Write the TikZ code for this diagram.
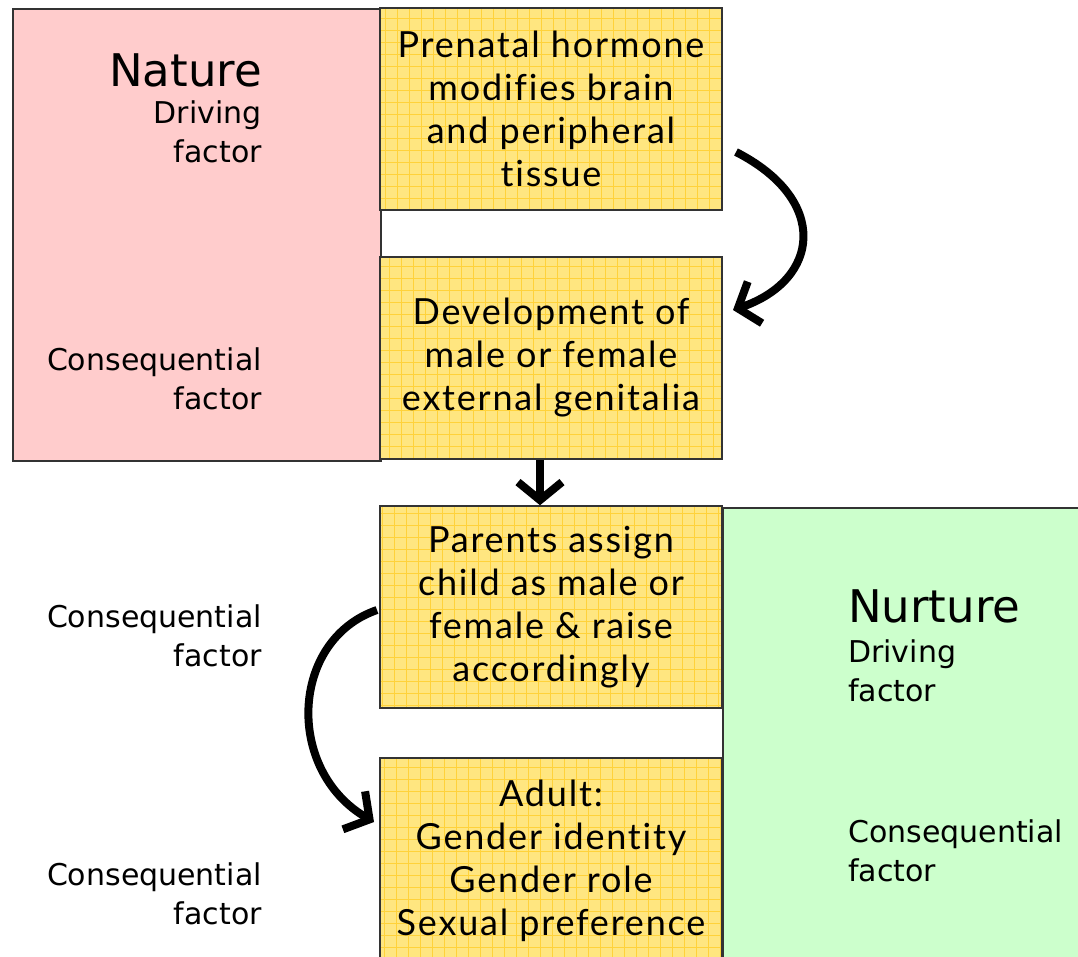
\documentclass[tikz,border=0pt]{standalone}
\usepackage{fontspec}
\setmainfont{DejaVu Sans}
\newfontfamily\boxfont[LetterSpace=5,Ligatures=NoCommon]{Lato}
\usetikzlibrary{arrows.meta}
\definecolor{pinkfill}{HTML}{FFCCCC}
\definecolor{greenfill}{HTML}{CCFFCC}
\definecolor{yellowfill}{HTML}{FFE680}
\definecolor{yellowgrid}{HTML}{FFD23A}
\tikzset{
  side/.style={draw=black!80, line width=1.5pt, inner sep=0pt},
  stage/.style={draw=black!80, line width=1.5pt, fill=yellowfill, minimum width=342pt,
    minimum height=202pt, inner sep=0pt, align=center,
    font=\boxfont\fontsize{36}{43}\selectfont,
    path picture={\draw[yellowgrid, line width=1pt] (path picture bounding box.south west)
      grid[step=12pt] (path picture bounding box.north east);}},
  biglbl/.style={font=\fontsize{45}{50}\selectfont, inner sep=0pt},
  lbl/.style={font=\fontsize{30}{39}\selectfont, inner sep=0pt},
  curvy/.style={line width=8pt, -{Straight Barb[length=18pt,width=44pt]}}
}
\begin{document}
\begin{tikzpicture}[x=1pt,y=-1pt]
\useasboundingbox (0,0) rectangle (1078,956);
% side panels
\node[side, fill=pinkfill, minimum width=368pt, minimum height=452pt, anchor=north west] (nature) at (12,8) {};
\node[side, fill=greenfill, minimum width=362pt, minimum height=455pt, anchor=north west] (nurture) at (722,507) {};
% stages
\node[stage] (p1) at (551,109) {Prenatal hormone\\modifies brain\\and peripheral\\tissue};
\node[stage] (p2) at (551,358) {Development of\\male or female\\external genitalia};
\node[stage] (p3) at (551,607) {Parents assign\\child as male or\\female \& raise\\accordingly};
\node[stage, minimum height=206pt, anchor=north] (p4) at (551,757) {Adult:\\Gender identity\\Gender role\\Sexual preference};
% labels
\node[biglbl, anchor=base east] (natname) at (262,86) {Nature};
\node[lbl, anchor=north east, align=right] (natdrive) at (262,101) {Driving\\factor};
\node[lbl, anchor=north east, align=right] (natcons) at (262,347) {Consequential\\factor};
\node[lbl, anchor=north east, align=right] (cons3) at (262,604) {Consequential\\factor};
\node[lbl, anchor=north east, align=right] (cons4) at (262,862) {Consequential\\factor};
\node[biglbl, anchor=base west] (nurname) at (848,622) {Nurture};
\node[lbl, anchor=north west, align=left] (nurdrive) at (848,639) {Driving\\factor};
\node[lbl, anchor=north west, align=left] (nurcons) at (848,819) {Consequential\\factor};
% arrows
\coordinate (a1) at (736,152);
\coordinate (b1) at (733,310);
\coordinate (a3) at (377,610);
\coordinate (b3) at (374,822);
\draw[curvy] (a1) .. controls (830,200) and (820,280) .. (b1);
\draw[curvy] ([xshift=-11pt]p2.south) -- ([xshift=-11pt]p3.north);
\draw[curvy] (a3) .. controls (290,640) and (285,770) .. (b3);
\end{tikzpicture}
\end{document}
